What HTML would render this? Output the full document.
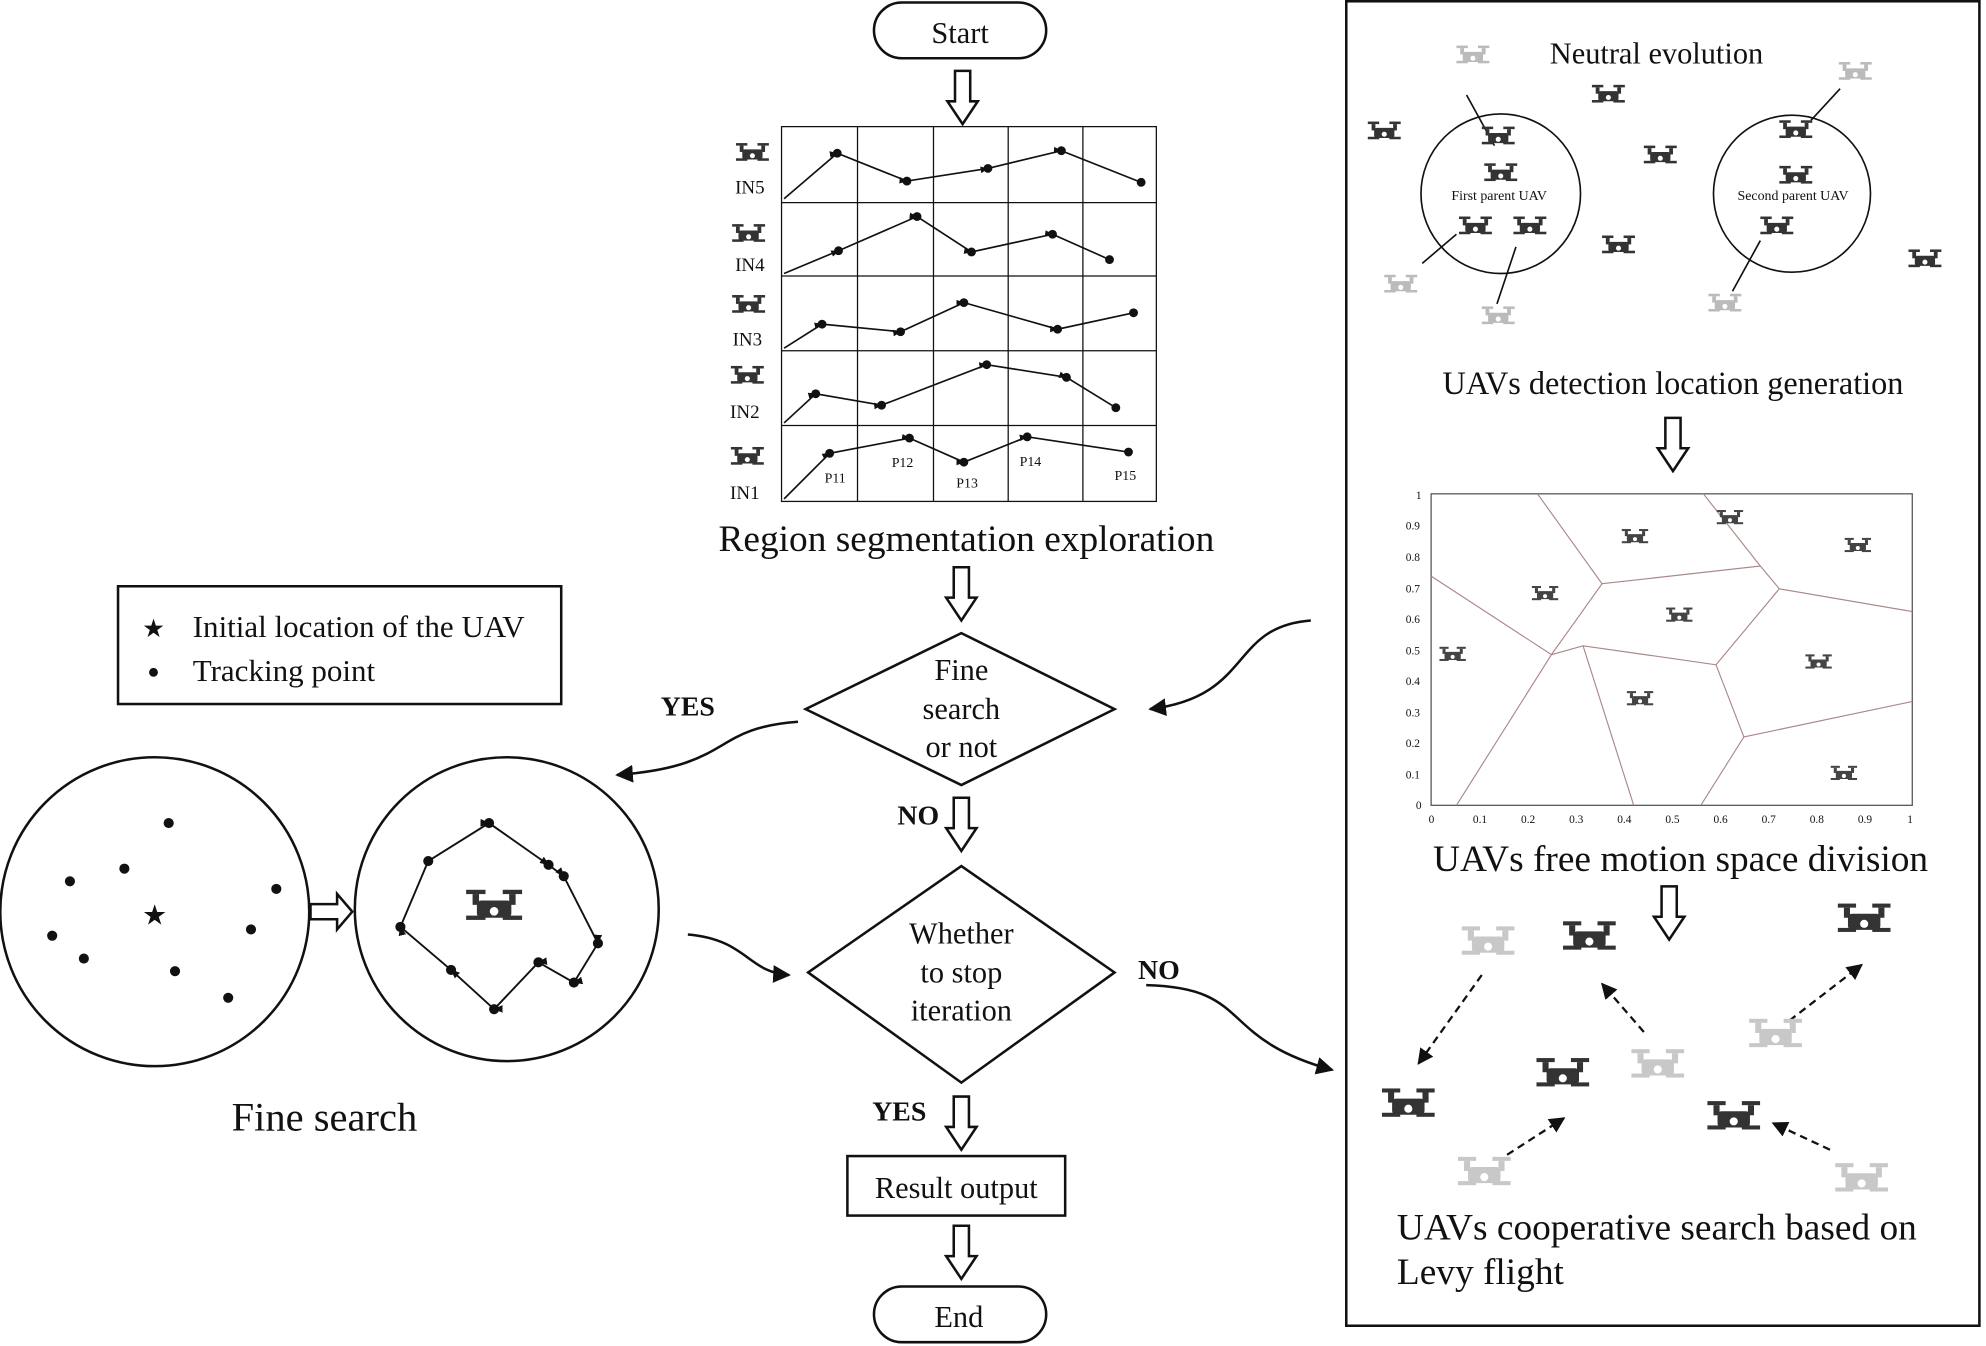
<!DOCTYPE html>
<html><head><meta charset="utf-8"><style>
html,body{margin:0;padding:0;background:#fff;}
svg{display:block}
text{font-family:"Liberation Serif",serif;fill:#111}
</style></head><body>
<svg width="1986" height="1346" viewBox="0 0 1568 1063" xmlns="http://www.w3.org/2000/svg">
<defs>
<g id="drone">
<rect x="-13" y="-9" width="9" height="2" fill="currentColor"/>
<rect x="4" y="-9" width="9" height="2" fill="currentColor"/>
<rect x="-10" y="-7" width="3" height="5" fill="currentColor"/>
<rect x="7" y="-7" width="3" height="5" fill="currentColor"/>
<rect x="-8" y="-4" width="16" height="8" rx="2" fill="currentColor"/>
<rect x="-13" y="3" width="9" height="2" fill="currentColor"/>
<rect x="4" y="3" width="9" height="2" fill="currentColor"/>
<circle cx="0" cy="1" r="2" fill="#fff"/>
</g>
<marker id="ah" viewBox="0 0 10 10" refX="9" refY="5" markerWidth="7" markerHeight="7" orient="auto"><path d="M0,0L10,5L0,10z" fill="#111"/></marker>
<marker id="sa" viewBox="0 0 10 10" refX="9" refY="5" markerWidth="5" markerHeight="5" orient="auto"><path d="M0,1L10,5L0,9z" fill="#111"/></marker>
<g id="harrow"><path d="M-6,0H6V24H12L0,42L-12,24H-6Z" fill="#fff" stroke="#111" stroke-width="2"/></g>
</defs>
<g fill="none" stroke="#111" stroke-width="2">
<rect x="690" y="2" width="136" height="44" rx="22"/>
<rect x="669" y="913" width="172" height="47"/>
<rect x="690" y="1016" width="136" height="44" rx="22"/>
<path d="M636,560L759,500L880,560L759,620Z"/>
<path d="M638,768L759,684L880,768L759,855Z"/>
<rect x="93" y="463" width="350" height="93"/>
<circle cx="122" cy="720" r="122"/>
<circle cx="400" cy="718" r="120"/>
<rect x="1063" y="1" width="500" height="1046"/>
<path d="M630,570C560,575 580,605 487,612" marker-end="url(#ah)"/>
<path d="M543,738C590,742 590,768 623,770" marker-end="url(#ah)"/>
<path d="M905,778C990,780 960,820 1052,845" marker-end="url(#ah)"/>
<path d="M1035,490C970,495 990,550 908,560" marker-end="url(#ah)"/>
</g>
<use href="#harrow" x="760" y="56"/>
<use href="#harrow" x="759" y="448"/>
<use href="#harrow" x="759" y="630"/>
<use href="#harrow" x="759" y="866"/>
<use href="#harrow" x="759" y="968"/>
<use href="#harrow" x="1321" y="330"/>
<use href="#harrow" x="1318" y="700"/>
<path d="M245,714H266V706L278,720L266,734V726H245Z" fill="#fff" stroke="#111" stroke-width="2"/>
<g font-size="24" text-anchor="middle">
<text x="758" y="34">Start</text>
<text x="755" y="946">Result output</text>
<text x="757" y="1048">End</text>
<text x="759" y="537">Fine</text><text x="759" y="568">search</text><text x="759" y="598">or not</text>
<text x="759" y="745">Whether</text><text x="759" y="776">to stop</text><text x="759" y="806">iteration</text>
</g>
<g font-size="22" font-weight="bold" text-anchor="middle">
<text x="543" y="565">YES</text><text x="725" y="651">NO</text><text x="915" y="773">NO</text><text x="710" y="885">YES</text>
</g>
<text x="763" y="435" font-size="29.5" text-anchor="middle">Region segmentation exploration</text>
<text x="256" y="893" font-size="32" text-anchor="middle">Fine search</text>
<text x="112" y="503" font-size="20">★</text><text x="152" y="503" font-size="24.5">Initial location of the UAV</text>
<circle cx="121" cy="531" r="3.5" fill="#111"/><text x="152" y="538" font-size="24.5">Tracking point</text>
<text x="1308" y="50" font-size="24" text-anchor="middle">Neutral evolution</text>
<text x="1321" y="311" font-size="25.5" text-anchor="middle">UAVs detection location generation</text>
<text x="1327" y="688" font-size="29.5" text-anchor="middle">UAVs free motion space division</text>
<text x="1103" y="979" font-size="29.5">UAVs cooperative search based on</text>
<text x="1103" y="1014" font-size="29.5">Levy flight</text>
<!-- grid -->
<g stroke="#111" stroke-width="1" fill="none">
<rect x="617" y="100" width="296" height="296"/>
<path d="M677,100V396M737,100V396M796,100V396M855,100V396M617,160H913M617,218H913M617,277H913M617,336H913"/>
</g>
<g stroke="#111" stroke-width="1.3" fill="none" marker-mid="url(#sa)">
<polyline points="619,157 661,121 716,143 780,133 838,119 901,144"/>
<polyline points="619,216 662,198 724,171 767,199 831,185 876,205"/>
<polyline points="619,275 649,256 711,262 761,239 835,260 895,247"/>
<polyline points="619,334 644,311 696,320 779,288 842,298 881,322"/>
<polyline points="619,394 655,358 718,346 761,365 811,345 891,357"/>
</g>
<g fill="#111">
<circle cx="661" cy="121" r="3.5"/><circle cx="716" cy="143" r="3.5"/><circle cx="780" cy="133" r="3.5"/><circle cx="838" cy="119" r="3.5"/><circle cx="901" cy="144" r="3.5"/>
<circle cx="662" cy="198" r="3.5"/><circle cx="724" cy="171" r="3.5"/><circle cx="767" cy="199" r="3.5"/><circle cx="831" cy="185" r="3.5"/><circle cx="876" cy="205" r="3.5"/>
<circle cx="649" cy="256" r="3.5"/><circle cx="711" cy="262" r="3.5"/><circle cx="761" cy="239" r="3.5"/><circle cx="835" cy="260" r="3.5"/><circle cx="895" cy="247" r="3.5"/>
<circle cx="644" cy="311" r="3.5"/><circle cx="696" cy="320" r="3.5"/><circle cx="779" cy="288" r="3.5"/><circle cx="842" cy="298" r="3.5"/><circle cx="881" cy="322" r="3.5"/>
<circle cx="655" cy="358" r="3.5"/><circle cx="718" cy="346" r="3.5"/><circle cx="761" cy="365" r="3.5"/><circle cx="811" cy="345" r="3.5"/><circle cx="891" cy="357" r="3.5"/>
</g>
<g font-size="11"><text x="651" y="381">P11</text><text x="704" y="369">P12</text><text x="755" y="385">P13</text><text x="805" y="368">P14</text><text x="880" y="379">P15</text></g>
<g font-size="15" text-anchor="middle"><text x="592" y="153">IN5</text><text x="592" y="214">IN4</text><text x="590" y="273">IN3</text><text x="588" y="330">IN2</text><text x="588" y="394">IN1</text></g>
<g color="#333"><use href="#drone" x="594" y="122"/><use href="#drone" x="591" y="186"/><use href="#drone" x="591" y="242"/><use href="#drone" x="590" y="298"/><use href="#drone" x="590" y="362"/></g>
<!-- fine search dots -->
<g fill="#111">
<circle cx="133" cy="650" r="4"/><circle cx="55" cy="696" r="4"/><circle cx="98" cy="686" r="4"/><circle cx="218" cy="702" r="4"/><circle cx="41" cy="739" r="4"/><circle cx="198" cy="734" r="4"/><circle cx="66" cy="757" r="4"/><circle cx="138" cy="767" r="4"/><circle cx="180" cy="788" r="4"/>
<text x="112" y="730" font-size="22">★</text>
</g>
<g stroke="#111" stroke-width="1.5" fill="none" marker-mid="url(#sa)">
<polyline points="338,680 386,650 433,683 445,692 472,745 453,776 425,760 390,797 356,766 316,732 338,680"/>
</g>
<g fill="#111"><circle cx="338" cy="680" r="4"/><circle cx="386" cy="650" r="4"/><circle cx="433" cy="683" r="4"/><circle cx="445" cy="692" r="4"/><circle cx="472" cy="745" r="4"/><circle cx="453" cy="776" r="4"/><circle cx="425" cy="760" r="4"/><circle cx="390" cy="797" r="4"/><circle cx="356" cy="766" r="4"/><circle cx="316" cy="732" r="4"/></g>
<g color="#333"><use href="#drone" transform="translate(390,718) scale(1.7)"/></g>
<!-- neutral evolution -->
<g fill="none" stroke="#111" stroke-width="1.3"><circle cx="1185" cy="153" r="63"/><circle cx="1415" cy="153" r="62"/>
<path d="M1158,75L1180,115M1123,208L1150,185M1182,240L1197,195M1453,70L1430,95M1368,230L1390,190"/></g>
<g font-size="11"><text x="1146" y="158">First parent UAV</text><text x="1372" y="158">Second parent UAV</text></g>
<g color="#333"><use href="#drone" x="1183" y="109"/><use href="#drone" x="1185" y="138"/><use href="#drone" x="1165" y="180"/><use href="#drone" x="1208" y="180"/><use href="#drone" x="1093" y="105"/><use href="#drone" x="1270" y="76"/><use href="#drone" x="1311" y="124"/><use href="#drone" x="1278" y="195"/><use href="#drone" x="1418" y="104"/><use href="#drone" x="1418" y="140"/><use href="#drone" x="1403" y="180"/><use href="#drone" x="1520" y="206"/></g>
<g color="#bbb"><use href="#drone" x="1163" y="45"/><use href="#drone" x="1465" y="58"/><use href="#drone" x="1106" y="226"/><use href="#drone" x="1183" y="251"/><use href="#drone" x="1362" y="241"/></g>
<!-- voronoi -->
<g stroke="#555" stroke-width="1" fill="none"><rect x="1130" y="390" width="380" height="246"/></g>
<g stroke="#a88" stroke-width="0.9" fill="none">
<path d="M1214,390L1265,461L1225,517L1130,455M1265,461L1390,447L1405,465L1510,483M1390,447L1345,390M1225,517L1250,510L1355,525L1405,465M1355,525L1377,582L1510,554M1377,582L1343,636M1225,517L1150,636M1250,510L1290,636"/>
</g>
<g font-size="9" fill="#336"><text x="1118" y="394">1</text><text x="1110" y="418">0.9</text><text x="1110" y="443">0.8</text><text x="1110" y="468">0.7</text><text x="1110" y="492">0.6</text><text x="1110" y="517">0.5</text><text x="1110" y="541">0.4</text><text x="1110" y="566">0.3</text><text x="1110" y="590">0.2</text><text x="1110" y="615">0.1</text><text x="1118" y="639">0</text>
<text x="1128" y="650">0</text><text x="1163" y="650">0.1</text><text x="1201" y="650">0.2</text><text x="1239" y="650">0.3</text><text x="1277" y="650">0.4</text><text x="1315" y="650">0.5</text><text x="1353" y="650">0.6</text><text x="1391" y="650">0.7</text><text x="1429" y="650">0.8</text><text x="1467" y="650">0.9</text><text x="1506" y="650">1</text></g>
<g color="#444"><use href="#drone" transform="translate(1291,425) scale(0.8)"/><use href="#drone" transform="translate(1366,410) scale(0.8)"/><use href="#drone" transform="translate(1467,432) scale(0.8)"/><use href="#drone" transform="translate(1220,470) scale(0.8)"/><use href="#drone" transform="translate(1326,487) scale(0.8)"/><use href="#drone" transform="translate(1147,518) scale(0.8)"/><use href="#drone" transform="translate(1436,524) scale(0.8)"/><use href="#drone" transform="translate(1295,553) scale(0.8)"/><use href="#drone" transform="translate(1456,612) scale(0.8)"/></g>
<!-- levy -->
<g stroke="#111" stroke-width="1.8" fill="none" stroke-dasharray="6,4" marker-end="url(#ah)">
<path d="M1170,770L1120,840"/><path d="M1298,815L1265,777"/><path d="M1413,806L1470,762"/><path d="M1190,912L1235,883"/><path d="M1445,908L1400,887"/>
</g>
<g color="#333"><use href="#drone" transform="translate(1255,742) scale(1.6)"/><use href="#drone" transform="translate(1472,728) scale(1.6)"/><use href="#drone" transform="translate(1112,874) scale(1.6)"/><use href="#drone" transform="translate(1234,850) scale(1.6)"/><use href="#drone" transform="translate(1369,884) scale(1.6)"/></g>
<g color="#c8c8c8"><use href="#drone" transform="translate(1175,746) scale(1.6)"/><use href="#drone" transform="translate(1309,843) scale(1.6)"/><use href="#drone" transform="translate(1402,819) scale(1.6)"/><use href="#drone" transform="translate(1172,928) scale(1.6)"/><use href="#drone" transform="translate(1470,933) scale(1.6)"/></g>
</svg>
</body></html>
